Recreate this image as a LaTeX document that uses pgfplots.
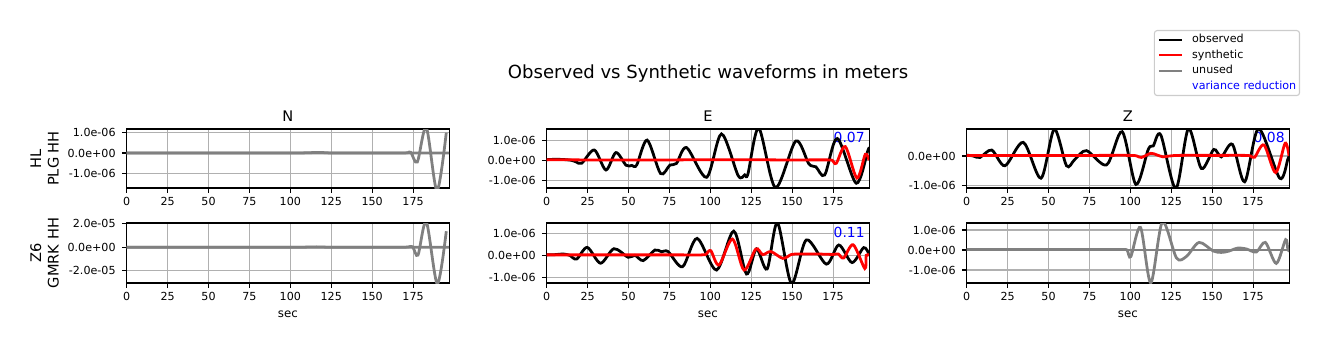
\documentclass[border=0pt]{standalone}
\usepackage{fontspec}
\setmainfont{DejaVu Sans}
\usepackage{pgfplots}
\pgfplotsset{compat=1.18}
\definecolor{gridgray}{HTML}{B0B0B0}
\definecolor{mgray}{HTML}{808080}
\definecolor{legframe}{HTML}{CCCCCC}
\tikzset{vr/.style={anchor=base east, text=blue, inner sep=0pt, font=\fontsize{10}{12}\selectfont}}
\pgfplotsset{
  wf/.style={
    scale only axis, width=232.1pt, anchor=south west,
    xmin=0, xmax=197, xtick={0,25,...,175},
    grid=major, major grid style={color=gridgray, line width=0.8pt},
    axis line style={line width=0.8pt},
    tick align=outside, tick pos=left, major tick length=3.5pt,
    every tick/.style={black, line width=0.8pt},
    /pgf/number format/assume math mode=true,
    ticklabel style={font=\fontsize{8}{9.6}\selectfont},
    xticklabel style={anchor=base, inner sep=0pt, yshift=-9.4pt},
    yticklabel style={anchor=east, inner sep=0pt, xshift=-4.3pt},
    title style={at={(axis description cs:0.5,1)}, anchor=base, yshift=-0.7pt, inner sep=0pt, font=\fontsize{10.5}{12.6}\selectfont},
    every axis y label/.style={at={(axis description cs:-0.21,0.5)}, rotate=90, anchor=south, inner sep=0pt, align=center, font=\fontsize{10.5}{12.6}\selectfont},
    every axis x label/.style={at={(axis description cs:0.5,0)}, anchor=base, yshift=-24.7pt, inner sep=0pt, font=\fontsize{8.5}{10}\selectfont},
    every axis plot/.append style={line width=2pt, smooth, tension=0.5},
  },
  row1/.style={height=42.48pt},
  row2/.style={height=43.2pt},
}
\begin{document}
\begin{tikzpicture}
\path[use as bounding box] (0,0) rectangle (956.88pt,252.72pt);
\node[anchor=base, inner sep=0pt, font=\fontsize{13}{15.6}\selectfont] at (509.8pt,196.1pt) {Observed vs Synthetic waveforms in meters};

% ---------------- Row 1, N ----------------
\begin{axis}[wf, row1, at={(91.22pt,117.36pt)}, title={N}, ylabel={HL\\PLG HH},
  ymin=-1.72, ymax=1.18, ytick={-1,0,1}, yticklabels={-1.0e-06,0.0e+00,1.0e-06}]
\addplot[mgray] coordinates {(0,0)(50,0)(100,0)(110,0.01)(118,0.03)(126,0.0)(150,0)(170,0)(197,0)};
\addplot[mgray] coordinates {(0,0)(50,0)(100,0)(150,0)(170,0)(173.5,0.04)(177.6,-0.44)(183.1,1.25)(189.6,-1.85)(195.3,1.0)};
\end{axis}

% ---------------- Row 1, E ----------------
\begin{axis}[wf, row1, at={(393.62pt,117.36pt)}, title={E},
  ymin=-1.40, ymax=1.58, ytick={-1,0,1}, yticklabels={-1.0e-06,0.0e+00,1.0e-06}]
\node[vr] at (rel axis cs:0.987,0.768) {0.07};
\addplot[black] coordinates {(0,0.03)(5,0.05)(10,0.04)(15,0.0)(18,-0.08)(21.4,-0.15)(29.1,0.52)(36.2,-0.49)(42.3,0.39)(48.5,-0.25)(52,-0.26)(55,-0.24)(61.4,1.02)(69.6,-0.67)(75.3,-0.24)(79.3,-0.16)(85.5,0.64)(97.7,-0.86)(106.8,1.33)(117,-0.77)(121,-0.74)(123,-0.68)(129.6,1.62)(139.8,-1.38)(152.2,0.97)(160.2,-0.18)(164.5,-0.33)(169.9,-0.74)(177.6,1.1)(189.2,-1.16)(196.3,0.5)(197,0.55)};
\addplot[red] coordinates {(0,0.03)(20,0.02)(40,0.02)(60,0.02)(80,0.02)(100,0.03)(120,0.03)(140,0.02)(160,0.02)(172,0.02)(174.5,0.0)(177,-0.15)(182.5,0.69)(189.6,-0.9)(194.7,0.3)(197,0.0)};
\end{axis}

% ---------------- Row 1, Z ----------------
\begin{axis}[wf, row1, at={(696.02pt,117.36pt)}, title={Z},
  ymin=-1.08, ymax=0.91, ytick={-1,0}, yticklabels={-1.0e-06,0.0e+00},
  legend cell align=left,
  legend image code/.code={\draw[#1, line width=1.5pt, sharp plot] (0pt,0pt) -- (16.8pt,0pt);},
  legend style={at={(1.0342,2.678)}, anchor=north east, draw=legframe, line width=0.8pt, rounded corners=2pt, fill=white,
    font=\fontsize{8}{9.6}\selectfont, row sep=3.5pt, column sep=6.5pt, inner xsep=2.4pt, inner ysep=2.75pt,
    nodes={inner sep=0pt, text height=6pt, text depth=1.7pt}}]
\addlegendimage{black}\addlegendentry{observed}
\addlegendimage{red}\addlegendentry{synthetic}
\addlegendimage{mgray}\addlegendentry{unused}
\addlegendimage{empty legend}\addlegendentry{\textcolor{blue}{variance reduction}}
\node[vr] at (rel axis cs:0.987,0.768) {0.08};
\addplot[black, forget plot] coordinates {(0,0.03)(4,0.0)(8.1,-0.05)(15.3,0.2)(23.4,-0.33)(34.6,0.46)(45.4,-0.75)(53.5,0.9)(61,-0.33)(66,-0.12)(73.2,0.18)(85.5,-0.3)(95,0.82)(103.4,-0.96)(111,0.23)(114,0.34)(118.6,0.71)(127.8,-1.1)(135.5,0.92)(143.4,-0.42)(151,0.22)(155.6,-0.03)(162.4,0.39)(169.9,-0.87)(178.4,0.92)(191.3,-0.75)(196.3,-0.1)(197,0.0)};
\addplot[red, forget plot] coordinates {(0,0.02)(20,0.02)(40,0.02)(60,0.02)(80,0.02)(100,0.02)(104,0.0)(106.8,-0.05)(112.5,0.09)(116,0.04)(120,-0.03)(124,0.0)(130,0.02)(150,0.02)(170,0.02)(173.5,0.0)(176,-0.04)(181.7,0.37)(188.8,-0.56)(194.6,0.43)(197,0.0)};
\end{axis}

% ---------------- Row 2, N ----------------
\begin{axis}[wf, row2, at={(91.22pt,48.96pt)}, ylabel={Z6\\GMRK HH}, xlabel={sec},
  ymin=-30.4, ymax=20.6, ytick={-20,0,20}, yticklabels={-2.0e-05,0.0e+00,2.0e-05}]
\addplot[mgray] coordinates {(0,0)(50,0)(100,0)(108,0.05)(116,0.3)(125,0.0)(150,0)(170,0)(197,0)};
\addplot[mgray] coordinates {(0,0)(50,0)(100,0)(150,0)(170,0)(174.6,0.5)(178,-6.7)(183.1,21.5)(189.8,-31)(195.3,13.6)};
\end{axis}

% ---------------- Row 2, E ----------------
\begin{axis}[wf, row2, at={(393.62pt,48.96pt)}, xlabel={sec},
  ymin=-1.26, ymax=1.47, ytick={-1,0,1}, yticklabels={-1.0e-06,0.0e+00,1.0e-06}]
\node[vr] at (rel axis cs:0.987,0.762) {0.11};
\addplot[black] coordinates {(0,0.02)(5,0.03)(10,0.06)(14,0.0)(18.3,-0.17)(24.8,0.36)(32.9,-0.36)(41.1,0.30)(49.8,-0.09)(53.9,0.0)(59,-0.24)(66.1,0.24)(70.2,0.16)(74.2,0.17)(83,-0.52)(91.9,0.77)(103.8,-0.67)(114.3,1.1)(122.1,-0.85)(128.2,0.29)(134.7,-0.62)(141,1.48)(149.6,-1.28)(158.7,0.7)(170.9,-0.4)(178.5,0.47)(186.6,-0.33)(193.7,0.35)(197,0.05)};
\addplot[red] coordinates {(0,0.02)(20,0.02)(40,0.02)(60,0.02)(80,0.02)(95,0.02)(97.5,0.06)(100.3,0.21)(105.3,-0.44)(113.5,0.74)(120.6,-0.67)(127.8,0.29)(132,0.03)(137,0.17)(144.3,-0.14)(149.6,0.04)(155,0.06)(165,0.06)(175,0.04)(178.2,0.06)(181.5,-0.12)(187.3,0.48)(194.4,-0.6)(195.3,0.0)(197,0.0)};
\end{axis}

% ---------------- Row 2, Z ----------------
\begin{axis}[wf, row2, at={(696.02pt,48.96pt)}, xlabel={sec},
  ymin=-1.65, ymax=1.35, ytick={-1,0,1}, yticklabels={-1.0e-06,0.0e+00,1.0e-06}]
\addplot[mgray] coordinates {(0,0)(50,0)(100,0)(150,0)(197,0)};
\addplot[mgray] coordinates {(0,0.02)(20,0.02)(40,0.02)(60,0.02)(80,0.02)(95,0.02)(98,0.0)(100.3,-0.33)(106.2,1.13)(112.5,-1.64)(119.6,1.4)(128.2,-0.4)(134.3,-0.32)(142,0.38)(150.6,-0.05)(155.6,-0.12)(160,-0.06)(165.8,0.1)(171,0.05)(177,-0.1)(182.5,0.38)(189.2,-0.67)(194.9,0.52)(196.3,0.0)(197,0.0)};
\end{axis}
\end{tikzpicture}
\end{document}
